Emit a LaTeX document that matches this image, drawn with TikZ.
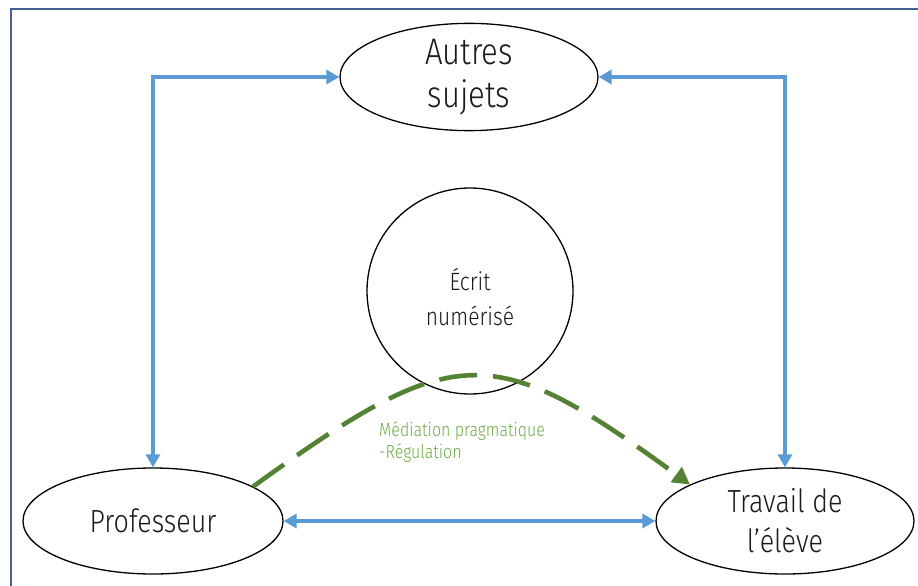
\documentclass[tikz,border=0pt]{standalone}
\usepackage{fontspec}
\setmainfont{Fira Sans Light}[FakeStretch=0.84]
\usetikzlibrary{arrows.meta,shapes.geometric}
\definecolor{bluearr}{HTML}{5B9BD5}
\definecolor{greenarr}{HTML}{548235}
\definecolor{greentxt}{HTML}{70AD47}
\definecolor{framecol}{HTML}{42628F}
\definecolor{txt}{HTML}{1A1A1A}
\tikzset{
  ell/.style={draw=black, line width=1.3pt, ellipse, inner sep=0pt, text=txt, align=center},
  bluecon/.style={draw=bluearr, line width=3.6pt, {Triangle[length=13pt,width=14pt]}-{Triangle[length=13pt,width=14pt]}},
  greencon/.style={draw=greenarr, line width=4.6pt, dash pattern=on 38pt off 16pt, -{Triangle[length=17pt,width=18pt]}},
  framestyle/.style={draw=framecol, line width=1.8pt}
}
\begin{document}
\begin{tikzpicture}[x=1pt,y=-1pt]
\useasboundingbox (0,0) rectangle (918,586);
\fill[white] (0,0) rectangle (918,586);
\draw[framestyle] (11,590) -- (11,9) -- (925,9);
\node[ell, minimum width=258pt, minimum height=94pt, font=\fontsize{37}{43}\selectfont] (autres) at (469,77) {Autres\\sujets};
\node[draw=black, line width=1.3pt, circle, minimum size=206pt, inner sep=0pt] (ecrit) at (470,291) {};
\node[text=txt, align=center, font=\fontsize{25}{35}\selectfont] (ecrittxt) at (470,297) {Écrit\\numérisé};
\node[ell, minimum width=260pt, minimum height=106pt, font=\fontsize{32}{40}\selectfont] (prof) at (153,521) {Professeur};
\node[ell, minimum width=258pt, minimum height=106pt, font=\fontsize{32}{40}\selectfont] (trav) at (785,521) {Travail de\\l'élève};
\draw[bluecon] (autres.west) -| (prof.north);
\draw[bluecon] (autres.east) -| (trav.north);
\draw[bluecon] (prof.east) -- (trav.west);
\draw[greencon] (prof.19.5) .. controls (456,340) and (492,340) .. (trav.159);
\node[anchor=north west, inner sep=0pt, text=greentxt, align=left, font=\fontsize{19}{22}\selectfont] (lab) at (379,421) {Médiation pragmatique\\-Régulation};
\end{tikzpicture}
\end{document}
